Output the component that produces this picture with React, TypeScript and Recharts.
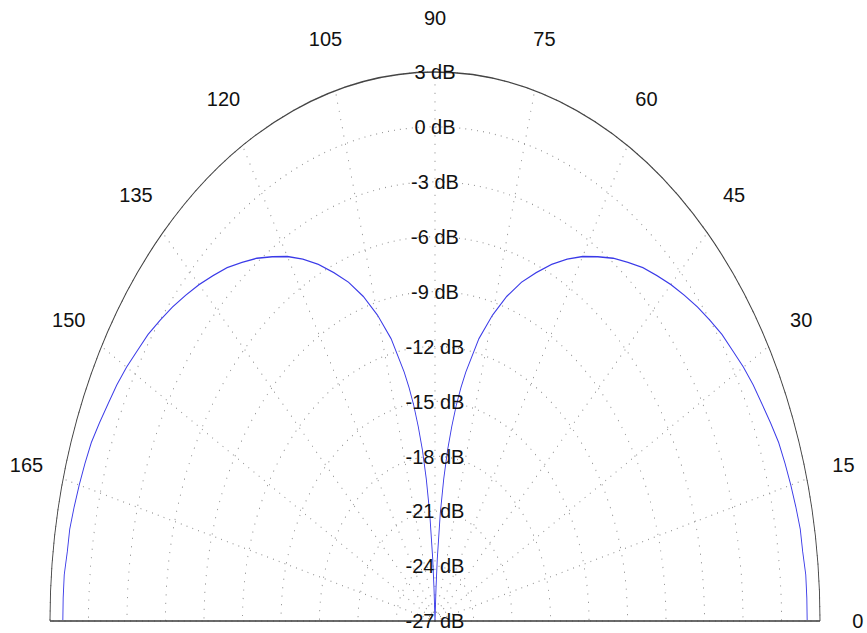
import {
  RadarChart,
  PolarGrid,
  PolarAngleAxis,
  PolarRadiusAxis,
  Radar,
} from "recharts";

const ANGLES = [
  0, 2.5, 5, 7.5, 10, 12.5, 15, 17.5, 20, 22.5, 25, 27.5, 30, 32.5, 35, 37.5,
  40, 42.5, 45, 47.5, 50, 52.5, 55, 57.5, 60, 62.5, 65, 67.5, 70, 72.5, 75,
  77.5, 80, 81, 82, 83, 84, 85, 86, 87, 87.5, 88, 90, 92, 92.5, 93, 94, 95, 96,
  97, 98, 99, 100, 102.5, 105, 107.5, 110, 112.5, 115, 117.5, 120, 122.5, 125,
  127.5, 130, 132.5, 135, 137.5, 140, 142.5, 145, 147.5, 150, 152.5, 155,
  157.5, 160, 162.5, 165, 167.5, 170, 172.5, 175, 177.5, 180,
];
const GAIN_DB = [
  2.0, 2.0, 2.0, 1.9, 1.9, 1.8, 1.7, 1.6, 1.5, 1.3, 1.1, 0.95, 0.75, 0.5, 0.3,
  0.0, -0.3, -0.65, -1.0, -1.4, -1.8, -2.3, -2.8, -3.4, -4.0, -4.7, -5.5, -6.4,
  -7.3, -8.4, -9.7, -11.2, -13.2, -14.1, -15.1, -16.3, -17.6, -19.2, -21.1,
  -23.6, -25.2, -27, -27, -27, -25.2, -23.6, -21.1, -19.2, -17.6, -16.3, -15.1,
  -14.1, -13.2, -11.2, -9.7, -8.4, -7.3, -6.4, -5.5, -4.7, -4.0, -3.4, -2.8,
  -2.3, -1.8, -1.4, -1.0, -0.65, -0.3, 0.0, 0.3, 0.5, 0.75, 0.95, 1.1, 1.3,
  1.5, 1.6, 1.7, 1.8, 1.9, 1.9, 2.0, 2.0, 2.0,
];
const DB_DOMAIN = [-27, 3];
const ANGLE_DOMAIN = [0, 180];

const data = ANGLES.map((angle, i) => ({ angle, gain: GAIN_DB[i] }));

// the plot is an ellipse: draw a circle and squeeze it horizontally
const SCALE_X = 0.7013;
const CHART_W = 1240;
const CHART_H = 633;
const CX = 435 / SCALE_X;
const CY = 621;
const R = 549;
const FONT = "Helvetica, 'Liberation Sans', Arial, sans-serif";
const TEXT = "#111";

function AngleTick(props: any) {
  const { x, y, payload } = props;
  if (payload.value === 180) return null;
  return (
    <g transform={`translate(${x},${y}) scale(${1 / SCALE_X},1)`}>
      <text
        x={0}
        y={0}
        dy="0.36em"
        textAnchor="middle"
        fontSize={20}
        fontFamily={FONT}
        fill={TEXT}
      >
        {payload.value}
      </text>
    </g>
  );
}

function DbTick(props: any) {
  const { x, y, payload } = props;
  return (
    <g transform={`translate(${x},${y}) scale(${1 / SCALE_X},1)`}>
      <text
        x={0}
        y={0}
        dy="0.36em"
        textAnchor="middle"
        fontSize={20}
        fontFamily={FONT}
        fill={TEXT}
      >
        {`${payload.value} dB`}
      </text>
    </g>
  );
}

export default function App() {
  return (
    <div
      style={{
        position: "fixed",
        left: 0,
        top: 0,
        width: 867,
        height: 633,
        overflow: "hidden",
        background: "#fff",
      }}
    >
      <style>{`
        .polar-wrap .recharts-polar-grid-concentric,
        .polar-wrap .recharts-polar-angle-axis-line { clip-path: url(#upperHalf); }
        .polar-wrap .recharts-radar,
        .polar-wrap .recharts-radar-polygon,
        .polar-wrap .recharts-radar path { clip-path: url(#aboveBase); }
        .polar-wrap line, .polar-wrap path, .polar-wrap circle { vector-effect: non-scaling-stroke; }
      `}</style>
      <svg width={0} height={0} style={{ position: "absolute" }}>
        <defs>
          <clipPath id="upperHalf" clipPathUnits="userSpaceOnUse">
            <rect x={0} y={0} width={CHART_W} height={CY} />
          </clipPath>
          <clipPath id="aboveBase" clipPathUnits="userSpaceOnUse">
            <rect x={0} y={0} width={CHART_W} height={CY - 1} />
          </clipPath>
        </defs>
      </svg>
      <div
        className="polar-wrap"
        style={{
          width: CHART_W,
          height: CHART_H,
          transform: `scaleX(${SCALE_X})`,
          transformOrigin: "0 0",
        }}
      >
        <RadarChart
          width={CHART_W}
          height={CHART_H}
          data={data}
          cx={CX}
          cy={CY}
          innerRadius={0}
          outerRadius={R}
          startAngle={0}
          endAngle={180}
          margin={{ top: 0, right: 0, bottom: 0, left: 0 }}
        >
          <PolarGrid
            gridType="circle"
            stroke="#8a8a8a"
            strokeWidth={1.2}
            strokeDasharray="1.2 7.3"
          />
          <PolarGrid
            polarAngles={[0, 180]}
            polarRadius={[]}
            stroke="#3a3a3a"
            strokeWidth={1.3}
          />
          <PolarAngleAxis
            dataKey="angle"
            type="number"
            domain={ANGLE_DOMAIN}
            tickCount={13}
            tick={<AngleTick />}
            tickLine={false}
            tickSize={54}
            axisLineType="circle"
            axisLine={{ stroke: "#444", strokeWidth: 1.3 }}
          />
          <PolarRadiusAxis
            angle={90}
            type="number"
            domain={DB_DOMAIN}
            tickCount={11}
            tick={<DbTick />}
            axisLine={false}
            tickLine={false}
          />
          <Radar
            dataKey="gain"
            stroke="#3a3ae8"
            strokeWidth={1.3}
            fill="none"
            fillOpacity={0}
            dot={false}
            activeDot={false}
            isAnimationActive={false}
          />
        </RadarChart>
      </div>
    </div>
  );
}
